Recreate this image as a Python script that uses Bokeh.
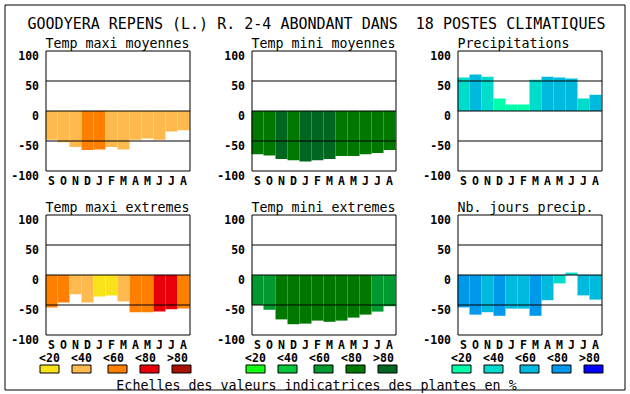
from bokeh.plotting import figure
from bokeh.models import Range1d, ColumnDataSource
from bokeh.core.properties import value
from bokeh.embed import file_html
from bokeh.resources import INLINE

# ---------------- data ----------------
title_text = "GOODYERA REPENS (L.) R. 2-4 ABONDANT DANS \u00a018 POSTES CLIMATIQUES"
caption_text = "Echelles des valeurs indicatrices des plantes en %"
months = ["S", "O", "N", "D", "J", "F", "M", "A", "M", "J", "J", "A"]
y_ticks = [-100, -50, 0, 50, 100]
grid_values = [-50, 0, 50]
class_labels = ["<20", "<40", "<60", "<80", ">80"]

panel_titles = ["Temp maxi moyennes", "Temp mini moyennes", "Precipitations",
                "Temp maxi extremes", "Temp mini extremes", "Nb. jours precip."]

tmax_moy = [-48, -52, -60, -65, -64, -60, -64, -48, -46, -48, -34, -32]
tmax_moy_cls = [1, 1, 1, 2, 2, 1, 1, 1, 1, 1, 1, 1]
tmin_moy = [-72, -74, -80, -82, -84, -82, -80, -75, -75, -72, -70, -65]
tmin_moy_cls = [3, 3, 4, 3, 4, 4, 4, 3, 3, 3, 3, 3]
precip = [56, 61, 57, 21, 11, 11, 52, 57, 56, 54, 21, 27]
precip_cls = [1, 2, 1, 0, 0, 0, 1, 2, 2, 2, 1, 2]
tmax_ext = [-54, -46, -32, -46, -36, -34, -44, -62, -62, -61, -57, -56]
tmax_ext_cls = [2, 2, 1, 1, 0, 0, 1, 2, 2, 3, 3, 2]
tmin_ext = [-50, -58, -74, -82, -81, -76, -78, -76, -71, -66, -61, -52]
tmin_ext_cls = [2, 2, 3, 3, 3, 3, 3, 3, 3, 3, 2, 2]
jours = [-54, -66, -62, -68, -56, -56, -68, -42, -14, 4, -34, -41]
jours_cls = [3, 3, 2, 3, 2, 2, 3, 2, 1, 1, 2, 2]

# ---------------- styles ----------------
warm = ["#F8E21A", "#FFBA4F", "#FF8000", "#E80008", "#A81000"]
green = ["#10FF10", "#00C838", "#009A30", "#007800", "#006620"]
blue = ["#00FFAA", "#00DCCC", "#00BADD", "#0098EA", "#0000FF"]

MONO = value("DejaVu Sans Mono")

# ---------------- layout (pixels) ----------------
W, H = 630, 394
col_edges = [45, 251, 457]          # left pixel edge of first bar in each column
row_tops = [50.5, 214.5]            # centre of top frame line of each row
BAR_PX = 12
UNIT_PX = 0.6
half = 0.5 / BAR_PX
border = (4.5, 624.5, 4.5, 389.5)   # left, right, top, bottom of outer frame

p = figure(width=W, height=H, x_range=Range1d(0, W), y_range=Range1d(H, 0),
           output_backend="svg", toolbar_location=None,
           x_axis_type=None, y_axis_type=None, min_border=0,
           background_fill_color="white", border_fill_color="white")
p.outline_line_color = None

# outer frame
p.quad(left=[border[0]], right=[border[1]], top=[border[2]], bottom=[border[3]],
       fill_color=None, line_color="black", line_width=1)

panels = [
    (tmax_moy, tmax_moy_cls, warm),
    (tmin_moy, tmin_moy_cls, green),
    (precip, precip_cls, blue),
    (tmax_ext, tmax_ext_cls, warm),
    (tmin_ext, tmin_ext_cls, green),
    (jours, jours_cls, blue),
]

for c, edge in enumerate(col_edges):
    centre0 = edge + BAR_PX / 2
    p.extra_x_ranges[f"x{c}"] = Range1d(-centre0 / BAR_PX, (W - centre0) / BAR_PX)
for r, top in enumerate(row_tops):
    zero_y = top + 100 * UNIT_PX
    p.extra_y_ranges[f"y{r}"] = Range1d((zero_y - H) / UNIT_PX, zero_y / UNIT_PX)

idx = list(range(len(months)))
fl, fr = -0.5 + half, len(months) - 0.5 + half

for k, (vals, cls, pal) in enumerate(panels):
    r, c = divmod(k, 3)
    xr, yr = f"x{c}", f"y{r}"
    src = ColumnDataSource(dict(x=idx, top=vals, color=[pal[i] for i in cls]))
    p.vbar(x="x", top="top", bottom=0, width=1, fill_color="color", line_color=None,
           source=src, x_range_name=xr, y_range_name=yr)
    p.segment(x0=[fl] * len(grid_values), x1=[fr] * len(grid_values),
              y0=grid_values, y1=grid_values, line_color="black", line_width=1,
              x_range_name=xr, y_range_name=yr)
    p.quad(left=[fl], right=[fr], bottom=[y_ticks[0]], top=[y_ticks[-1]],
           fill_color=None, line_color="black", line_width=1,
           x_range_name=xr, y_range_name=yr)
    # y tick labels
    p.text(x=[fl] * len(y_ticks), y=y_ticks, text=[str(t) for t in y_ticks],
           x_offset=-7, y_offset=4, text_align="right", text_baseline="alphabetic",
           text_font=MONO, text_font_size="11.5px", text_font_style="bold",
           text_color="black", x_range_name=xr, y_range_name=yr)
    # month labels
    p.text(x=idx, y=[y_ticks[0]] * len(idx), text=months, y_offset=10,
           text_align="center", text_baseline="alphabetic",
           text_font=MONO, text_font_size="11.5px", text_font_style="bold",
           text_color="black", x_range_name=xr, y_range_name=yr)
    # panel title
    p.text(x=[-0.5], y=[y_ticks[-1]], text=[panel_titles[k]], y_offset=-7.5,
           text_align="left", text_baseline="alphabetic",
           text_font=MONO, text_font_size="13.3px", text_color="black",
           x_range_name=xr, y_range_name=yr)

# main title and caption
p.text(x=[316], y=[23], text=[title_text], text_align="center",
       text_baseline="alphabetic", text_font=MONO, text_font_size="15px",
       text_color="black")
p.text(x=[316], y=[384.5], text=[caption_text], text_align="center",
       text_baseline="alphabetic", text_font=MONO, text_font_size="13.3px",
       text_color="black")

# legends
label_off = [4, 36, 68, 100, 132]
swatch_off = [4, 36, 72, 104, 136]
for c, (edge, pal) in enumerate(zip(col_edges, [warm, green, blue])):
    p.text(x=[edge + o for o in label_off], y=[357] * 5, text=class_labels,
           text_align="center", text_baseline="alphabetic",
           text_font=MONO, text_font_size="11.5px", text_font_style="bold",
           text_color="black")
    p.rect(x=[edge + o for o in swatch_off], y=[368.5] * 5, width=19, height=8,
           fill_color=pal, line_color="black", line_width=1)

open("out.html", "w").write(file_html(p, INLINE))
